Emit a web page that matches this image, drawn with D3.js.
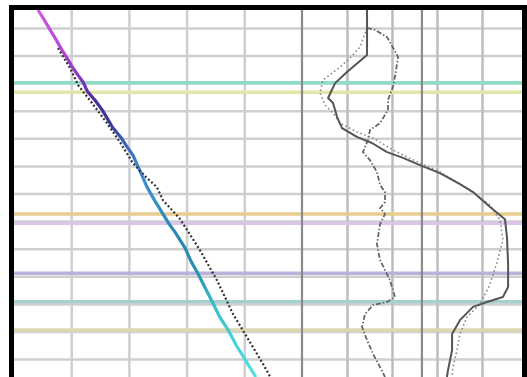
<!DOCTYPE html>
<html>
<head>
<meta charset="utf-8">
<script src="https://cdn.jsdelivr.net/npm/d3@7"></script>
<style>
  html, body { margin: 0; padding: 0; background: #fff; }
  svg { display: block; filter: blur(0.45px); }
</style>
</head>
<body>
<svg id="chart" width="527" height="377"></svg>
<script>
// depth grid (m) and track grids
const depthTicks = [3000, 3010, 3020, 3030, 3040, 3050, 3060, 3070, 3080, 3090, 3100, 3110, 3120];
const leftTicks = [20, 40, 60, 80];
const rightTicks = [20, 40, 60, 80];
const rightCutoff = 53.3;

// formation tops
const topDepths = [3019.9, 3023.3, 3067.4, 3070.8, 3088.9, 3099.2, 3109.5];
const topColors = ['#8fdcc8', '#e2e6a6', '#e8cc8e', '#dcc4ea', '#b9b3dc', '#a6d0cc', '#dcd8b2'];

// left track: trend curve (colored) and model (dotted)
const trendDepth = [2993.5, 2997.0, 3000.7, 3004.5, 3008.0, 3011.5, 3014.5, 3017.2, 3019.6, 3023.0, 3026.1, 3029.5, 3032.6, 3036.0, 3039.5, 3043.0, 3046.1, 3052.0, 3057.7, 3062.5, 3067.4, 3071.0, 3074.0, 3079.8, 3084.5, 3089.2, 3094.5, 3099.7, 3104.8, 3109.8, 3115.0, 3120.0, 3126.5];
const trendValue = [8.5, 10.6, 12.7, 14.9, 16.8, 18.9, 20.6, 22.4, 24.1, 25.6, 28.2, 30.6, 32.4, 34.3, 37.1, 39.3, 41.4, 43.9, 46.3, 48.9, 51.8, 53.9, 56.0, 59.5, 61.5, 64.0, 66.6, 69.1, 71.5, 74.6, 77.2, 80.2, 84.0];

const modelDepth = [3007.3, 3014.5, 3020.7, 3027.2, 3034.5, 3041.7, 3049.0, 3054.0, 3057.7, 3062.4, 3069.2, 3080.5, 3091.4, 3103.7, 3112.0, 3121.8, 3126.5];
const modelValue = [15.4, 19.6, 22.4, 27.2, 32.4, 37.1, 41.4, 45.9, 49.7, 51.8, 57.7, 64.6, 70.5, 76.1, 80.9, 86.5, 89.0];

// right track: three logs
const solidDepth = [2993.5, 3009.8, 3016.0, 3020.0, 3025.4, 3027.2, 3032.3, 3036.3, 3039.5, 3041.7, 3045.0, 3047.1, 3049.7, 3052.6, 3056.6, 3059.5, 3064.9, 3069.3, 3075.8, 3085.6, 3093.9, 3097.5, 3099.3, 3101.1, 3105.9, 3110.9, 3116.7, 3124.0, 3126.5];
const solidValue = [28.9, 28.9, 20.0, 14.7, 11.6, 13.8, 15.6, 17.8, 24.4, 31.1, 37.8, 44.9, 52.4, 61.3, 70.2, 76.0, 83.6, 90.2, 91.1, 91.6, 91.6, 89.3, 82.2, 76.0, 70.2, 66.7, 66.7, 64.9, 64.4];

const dottedDepth = [3000.0, 3006.9, 3010.9, 3014.2, 3018.9, 3023.6, 3027.9, 3030.8, 3034.5, 3037.7, 3039.9, 3044.2, 3046.8, 3052.2, 3058.7, 3064.2, 3069.6, 3076.9, 3084.8, 3092.8, 3100.1, 3104.8, 3110.9, 3116.7, 3122.9, 3126.5];
const dottedValue = [28.9, 25.8, 21.3, 16.9, 9.3, 8.0, 10.2, 13.8, 16.9, 24.4, 31.6, 40.4, 46.7, 61.3, 74.7, 83.6, 88.0, 89.3, 86.7, 83.6, 79.1, 73.3, 70.2, 68.9, 67.1, 66.7];

const dashDepth = [3000.0, 3000.7, 3003.3, 3010.5, 3017.8, 3021.4, 3026.1, 3029.7, 3034.5, 3037.0, 3040.6, 3045.0, 3047.9, 3052.2, 3056.9, 3059.5, 3063.1, 3065.3, 3067.4, 3071.1, 3078.3, 3084.1, 3091.4, 3097.5, 3099.3, 3100.4, 3103.7, 3108.4, 3113.1, 3118.2, 3122.9, 3126.5];
const dashValue = [28.9, 32.4, 37.8, 42.7, 41.3, 40.4, 38.2, 38.2, 34.7, 30.2, 29.3, 27.1, 30.2, 33.3, 34.7, 36.9, 36.9, 34.7, 36.9, 34.7, 33.3, 34.7, 39.1, 41.3, 37.8, 31.6, 28.0, 26.7, 28.9, 31.6, 34.7, 36.9];

const svg = d3.select('#chart');

const y = d3.scaleLinear().domain([2993.5, 3126.5]).range([10, 377]);
const xLeft = d3.scaleLinear().domain([0, 100]).range([13.5, 302]);
const xRight = d3.scaleLinear().domain([0, 100]).range([302, 527]);

const defs = svg.append('defs');
defs.append('clipPath').attr('id', 'plotClip')
  .append('rect')
    .attr('x', 12).attr('y', 8)
    .attr('width', 512).attr('height', 380);

const plot = svg.append('g').attr('clip-path', 'url(#plotClip)');

const gridColor = '#cfcfcf';

// horizontal depth grid
plot.append('g')
  .attr('class', 'depth-grid')
  .attr('transform', 'translate(527, 0)')
  .call(d3.axisLeft(y).tickValues(depthTicks).tickSize(527).tickFormat(''))
  .call(g => g.select('.domain').remove())
  .call(g => g.selectAll('line').attr('stroke', gridColor).attr('stroke-width', 2.5));

// vertical grids
plot.append('g')
  .attr('class', 'left-grid')
  .attr('transform', 'translate(0, 377)')
  .call(d3.axisTop(xLeft).tickValues(leftTicks).tickSize(377).tickFormat(''))
  .call(g => g.select('.domain').remove())
  .call(g => g.selectAll('line').attr('stroke', gridColor).attr('stroke-width', 2.5));

plot.append('g')
  .attr('class', 'right-grid')
  .attr('transform', 'translate(0, 377)')
  .call(d3.axisTop(xRight).tickValues(rightTicks).tickSize(377).tickFormat(''))
  .call(g => g.select('.domain').remove())
  .call(g => g.selectAll('line').attr('stroke', '#bdbdbd').attr('stroke-width', 2.5));

// formation tops
plot.append('g')
  .selectAll('line')
  .data(topDepths)
  .join('line')
    .attr('x1', 12)
    .attr('x2', 527)
    .attr('y1', d => y(d))
    .attr('y2', d => y(d))
    .attr('stroke', (d, i) => topColors[i])
    .attr('stroke-width', 3.5);

// track separator and cutoff
plot.append('line')
  .attr('x1', xRight(0)).attr('x2', xRight(0))
  .attr('y1', 0).attr('y2', 377)
  .attr('stroke', '#8a8a8a').attr('stroke-width', 2.2);
plot.append('line')
  .attr('x1', xRight(rightCutoff)).attr('x2', xRight(rightCutoff))
  .attr('y1', 0).attr('y2', 377)
  .attr('stroke', '#8a8a8a').attr('stroke-width', 2.2);

// gradient for trend curve
const grad = defs.append('linearGradient')
  .attr('id', 'trendGrad')
  .attr('gradientUnits', 'userSpaceOnUse')
  .attr('x1', 0).attr('x2', 0)
  .attr('y1', y(2993.5)).attr('y2', y(3126.5));
[
  [0, '#d457e2'], [0.1, '#b947d6'], [0.18, '#8a38c2'], [0.24, '#4f2ca0'],
  [0.3, '#3b3596'], [0.36, '#3a62b8'], [0.44, '#3f8ad0'], [0.52, '#3592c4'],
  [0.62, '#2a88aa'], [0.72, '#2a94b0'], [0.8, '#38bcc8'], [0.9, '#45d2d6'], [1, '#55e0e0']
].forEach(([o, c]) => grad.append('stop').attr('offset', o).attr('stop-color', c));

const leftLine = d3.line()
  .x(d => xLeft(d[1]))
  .y(d => y(d[0]));
const rightLine = d3.line()
  .x(d => xRight(d[1]))
  .y(d => y(d[0]));

plot.append('path')
  .datum(trendDepth.map((d, i) => [d, trendValue[i]]))
  .attr('fill', 'none')
  .attr('stroke', 'url(#trendGrad)')
  .attr('stroke-width', 3.2)
  .attr('stroke-linejoin', 'round')
  .attr('d', leftLine);

plot.append('path')
  .datum(modelDepth.map((d, i) => [d, modelValue[i]]))
  .attr('fill', 'none')
  .attr('stroke', '#333')
  .attr('stroke-width', 2.2)
  .attr('stroke-dasharray', '2,2.2')
  .attr('d', leftLine);

// right track logs
plot.append('path')
  .datum(dottedDepth.map((d, i) => [d, dottedValue[i]]))
  .attr('fill', 'none')
  .attr('stroke', '#8a8a8a')
  .attr('stroke-width', 1.6)
  .attr('stroke-dasharray', '1.6,2.6')
  .attr('d', rightLine);

plot.append('path')
  .datum(dashDepth.map((d, i) => [d, dashValue[i]]))
  .attr('fill', 'none')
  .attr('stroke', '#666')
  .attr('stroke-width', 1.8)
  .attr('stroke-dasharray', '5,2,1.5,2')
  .attr('d', rightLine);

plot.append('path')
  .datum(solidDepth.map((d, i) => [d, solidValue[i]]))
  .attr('fill', 'none')
  .attr('stroke', '#555')
  .attr('stroke-width', 2)
  .attr('stroke-linejoin', 'round')
  .attr('d', rightLine);

// frame
svg.append('rect')
  .attr('x', 11.5).attr('y', 7.5)
  .attr('width', 513).attr('height', 400)
  .attr('fill', 'none')
  .attr('stroke', '#000')
  .attr('stroke-width', 5);
</script>
</body>
</html>
